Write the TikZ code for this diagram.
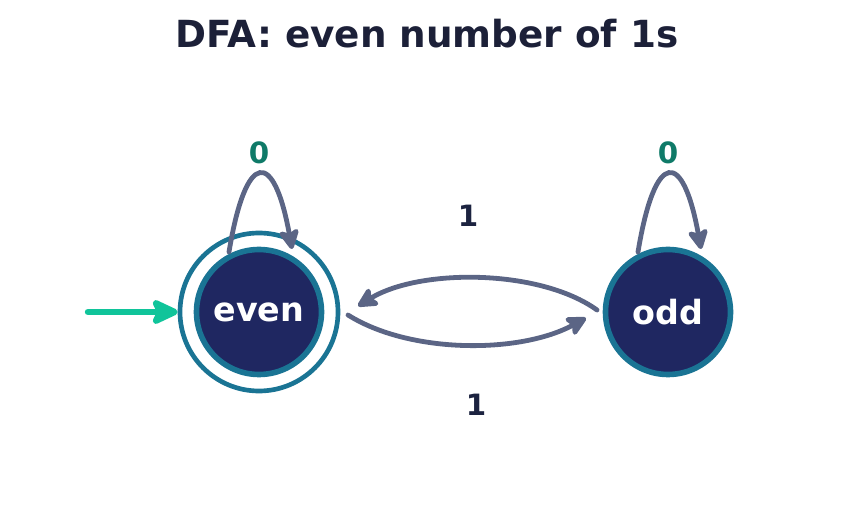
\documentclass[tikz,border=0pt]{standalone}
\usepackage{fontspec}
\setmainfont{DejaVu Sans}
\usetikzlibrary{arrows.meta,calc}
\definecolor{titlec}{HTML}{1C2038}
\definecolor{statefill}{HTML}{1F2761}
\definecolor{statering}{HTML}{1A7494}
\definecolor{edgec}{HTML}{5B6585}
\definecolor{startc}{HTML}{10C49A}
\definecolor{zeroc}{HTML}{0F7A68}
\definecolor{onec}{HTML}{1C2340}
\tikzset{
  statenode/.style={circle, fill=statefill, draw=statering, line width=4.2pt,
    minimum size=125*0.75pt, inner sep=0pt, text=white,
    font=\fontsize{25}{28}\selectfont\bfseries},
  ringnode/.style={circle, draw=statering, line width=3.5pt, minimum size=158*0.75pt, inner sep=0pt},
  transedge/.style={draw=edgec, line width=3.6pt, line cap=round,
    -{Stealth[length=18pt,width=18pt,inset=4pt,round]}},
  startedge/.style={draw=startc, line width=4.8pt, line cap=round,
    -{Stealth[length=24pt,width=22pt,inset=5pt,round]}},
  zerolab/.style={text=zeroc, font=\fontsize{22}{26}\selectfont\bfseries},
  onelab/.style={text=onec, font=\fontsize{22}{26}\selectfont\bfseries},
  titlelab/.style={text=titlec, font=\fontsize{28}{32}\selectfont\bfseries}
}
\begin{document}
\begin{tikzpicture}[x=0.75pt,y=-0.75pt]
\useasboundingbox (0,0) rectangle (853,516);
\node[titlelab] (title) at (427,34) {DFA: even number of 1s};
\node[ringnode] (evenring) at (259,312) {};
\node[statenode] (even) at (259,312) {even};
\node[statenode] (odd) at (668,312) {odd};
\coordinate (startpt) at (88,312);
\draw[startedge] (startpt) -- (evenring.west);
% self loops
\draw[transedge] ($(even)+(-30,-60)$) .. controls ($(even)+(-13,-163)$) and ($(even)+(15,-163)$) .. ($(even)+(33,-63)$);
\draw[transedge] ($(odd)+(-30,-60)$) .. controls ($(odd)+(-13,-163)$) and ($(odd)+(15,-163)$) .. ($(odd)+(33,-63)$);
% transitions between states
\draw[transedge] ($(even)+(89,3)$) .. controls ($(even)+(151,42)$) and ($(odd)+(-148,42)$) .. ($(odd)+(-82,6)$);
\draw[transedge] ($(odd)+(-71,-2)$) .. controls ($(odd)+(-128,-43)$) and ($(even)+(161,-44)$) .. ($(even)+(99,-6)$);
\node[zerolab] (l0a) at (259,153) {0};
\node[zerolab] (l0b) at (668,153) {0};
\node[onelab] (l1a) at (468,216) {1};
\node[onelab] (l1b) at (476,405) {1};
\end{tikzpicture}
\end{document}
